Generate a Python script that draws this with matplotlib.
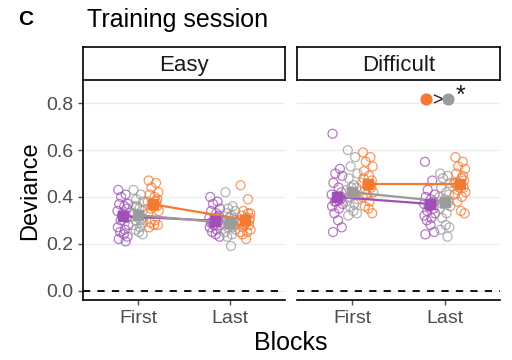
#!/usr/bin/env python3
"""Training session deviance plot (panel C)."""
import numpy as np
import matplotlib
matplotlib.use("Agg")
import matplotlib.pyplot as plt

plt.rcParams['font.family'] = ['Liberation Sans', 'DejaVu Sans']

panels = ["Easy", "Difficult"]
blocks = ["First", "Last"]
groups = ["purple", "grey", "orange"]
colors = {"purple": "#A04FB6", "grey": "#9B9B9B", "orange": "#F57A30"}

# group means [panel][group] -> (First, Last)
means = {
    "Easy": {"purple": [0.318, 0.298], "grey": [0.322, 0.288], "orange": [0.368, 0.302]},
    "Difficult": {"purple": [0.400, 0.370], "grey": [0.420, 0.380], "orange": [0.455, 0.455]},
}
sems = {
    "Easy": {"purple": [0.015, 0.013], "grey": [0.014, 0.013], "orange": [0.016, 0.014]},
    "Difficult": {"purple": [0.018, 0.017], "grey": [0.017, 0.016], "orange": [0.018, 0.018]},
}

# individual subject values
points = {
    ("Easy", "First", "purple"): [0.43, 0.41, 0.40, 0.37, 0.37, 0.36, 0.35, 0.34, 0.33, 0.31,
                                  0.30, 0.28, 0.27, 0.26, 0.25, 0.24, 0.23, 0.22, 0.21, 0.32],
    ("Easy", "First", "grey"): [0.43, 0.41, 0.39, 0.38, 0.36, 0.35, 0.34, 0.33, 0.32, 0.31,
                                0.30, 0.29, 0.28, 0.27, 0.26, 0.25, 0.24, 0.33, 0.30, 0.36],
    ("Easy", "First", "orange"): [0.47, 0.46, 0.44, 0.42, 0.41, 0.40, 0.39, 0.38, 0.37, 0.36,
                                  0.35, 0.34, 0.33, 0.30, 0.29, 0.28, 0.28, 0.27, 0.38, 0.36],
    ("Easy", "Last", "purple"): [0.40, 0.38, 0.37, 0.35, 0.34, 0.33, 0.32, 0.31, 0.30, 0.30,
                                 0.29, 0.28, 0.27, 0.26, 0.25, 0.24, 0.23, 0.29, 0.31, 0.28],
    ("Easy", "Last", "grey"): [0.42, 0.36, 0.35, 0.34, 0.33, 0.32, 0.31, 0.30, 0.29, 0.28,
                               0.27, 0.26, 0.25, 0.24, 0.23, 0.19, 0.30, 0.28, 0.27, 0.31],
    ("Easy", "Last", "orange"): [0.45, 0.39, 0.34, 0.33, 0.32, 0.31, 0.30, 0.30, 0.29, 0.28,
                                 0.27, 0.26, 0.25, 0.25, 0.24, 0.22, 0.31, 0.29, 0.33, 0.28],
    ("Difficult", "First", "purple"): [0.67, 0.52, 0.50, 0.49, 0.46, 0.44, 0.42, 0.41, 0.40, 0.39,
                                       0.38, 0.37, 0.36, 0.35, 0.33, 0.30, 0.27, 0.25, 0.40, 0.38],
    ("Difficult", "First", "grey"): [0.60, 0.57, 0.53, 0.50, 0.48, 0.45, 0.44, 0.43, 0.42, 0.41,
                                     0.40, 0.39, 0.38, 0.37, 0.36, 0.34, 0.33, 0.32, 0.41, 0.44],
    ("Difficult", "First", "orange"): [0.59, 0.57, 0.55, 0.53, 0.51, 0.49, 0.47, 0.46, 0.45, 0.44,
                                       0.43, 0.42, 0.40, 0.38, 0.36, 0.35, 0.33, 0.48, 0.45, 0.41],
    ("Difficult", "Last", "purple"): [0.55, 0.47, 0.43, 0.41, 0.40, 0.39, 0.38, 0.37, 0.36, 0.35,
                                      0.34, 0.33, 0.32, 0.31, 0.30, 0.28, 0.25, 0.24, 0.37, 0.36],
    ("Difficult", "Last", "grey"): [0.50, 0.49, 0.48, 0.46, 0.44, 0.42, 0.41, 0.40, 0.39, 0.38,
                                    0.37, 0.36, 0.35, 0.33, 0.31, 0.28, 0.27, 0.26, 0.23, 0.38],
    ("Difficult", "Last", "orange"): [0.57, 0.55, 0.53, 0.52, 0.50, 0.48, 0.47, 0.46, 0.45, 0.44,
                                      0.43, 0.42, 0.41, 0.40, 0.38, 0.34, 0.33, 0.46, 0.49, 0.44],
}

# small horizontal jitter offsets, one per point
jitter = [-0.05, 0.03, -0.02, 0.055, -0.04, 0.015, 0.045, -0.06, 0.0, 0.04,
          -0.025, 0.06, -0.055, 0.02, -0.03, 0.01, 0.05, -0.045, 0.03, -0.01]

dodge = {"purple": -0.165, "grey": 0.0, "orange": 0.165}

fig = plt.figure(figsize=(5.12, 3.6), dpi=100)
ax_l = fig.add_axes([0.162, 0.167, 0.395, 0.611])
ax_r = fig.add_axes([0.580, 0.167, 0.397, 0.611])

for ax, panel in zip([ax_l, ax_r], panels):
    ax.set_xlim(0.4, 2.6)
    ax.set_ylim(-0.04, 0.9)
    ax.set_yticks([0.0, 0.2, 0.4, 0.6, 0.8])
    ax.set_xticks([1, 2])
    ax.set_xticklabels(blocks)
    ax.grid(axis="y", color="#EBEBEB", lw=0.9, zorder=0)
    ax.set_axisbelow(True)
    for s in ["top", "right"]:
        ax.spines[s].set_visible(False)
    ax.spines["bottom"].set_linewidth(1.2)
    ax.spines["left"].set_linewidth(1.2)
    ax.tick_params(axis="both", colors="#4D4D4D", labelsize=14, length=3.5, width=1.0)
    ax.axhline(0, color="black", ls=(0, (4, 4)), lw=1.3, zorder=1)

    for g in groups:
        xs_m = []
        for bi, b in enumerate(blocks):
            vals = points[(panel, b, g)]
            x0 = bi + 1 + dodge[g]
            xs = [x0 + jitter[i % len(jitter)] for i in range(len(vals))]
            ax.scatter(xs, vals, s=42, facecolors="none", edgecolors=colors[g],
                       linewidths=0.9, alpha=0.75, zorder=2)
            xs_m.append(x0)
        m = means[panel][g]
        e = sems[panel][g]
        ax.plot(xs_m, m, color=colors[g], lw=1.6, zorder=3)
        ax.errorbar(xs_m, m, yerr=e, fmt="s", color=colors[g], ms=7,
                    capsize=3, elinewidth=1.4, capthick=1.4, zorder=4)

    # strip
    pos = ax.get_position()
    strip = fig.add_axes([pos.x0, pos.y1, pos.width, 0.092])
    strip.set_xticks([])
    strip.set_yticks([])
    for s in strip.spines.values():
        s.set_linewidth(1.2)
    strip.text(0.5, 0.45, panel, ha="center", va="center", fontsize=16, color="#1A1A1A")

ax_r.spines["left"].set_visible(False)
ax_r.tick_params(axis="y", left=False, labelleft=False)

# significance annotation in the Difficult panel
ax_r.scatter([1.80], [0.818], s=60, color=colors["orange"], zorder=5, clip_on=False)
ax_r.scatter([2.04], [0.818], s=60, color=colors["grey"], zorder=5, clip_on=False)
ax_r.text(1.92, 0.818, ">", ha="center", va="center_baseline", fontsize=13, color="#1A1A1A")
ax_r.text(2.165, 0.83, "*", ha="center", va="center", fontsize=18, color="#1A1A1A")

fig.text(0.035, 0.945, "C", fontsize=15, fontweight="bold", va="center")
fig.text(0.170, 0.945, "Training session", fontsize=18, va="center")
fig.text(0.058, 0.47, "Deviance", fontsize=17, rotation=90, ha="center", va="center")
fig.text(0.568, 0.048, "Blocks", fontsize=18, ha="center", va="center")

fig.savefig("out.png", dpi=100)
